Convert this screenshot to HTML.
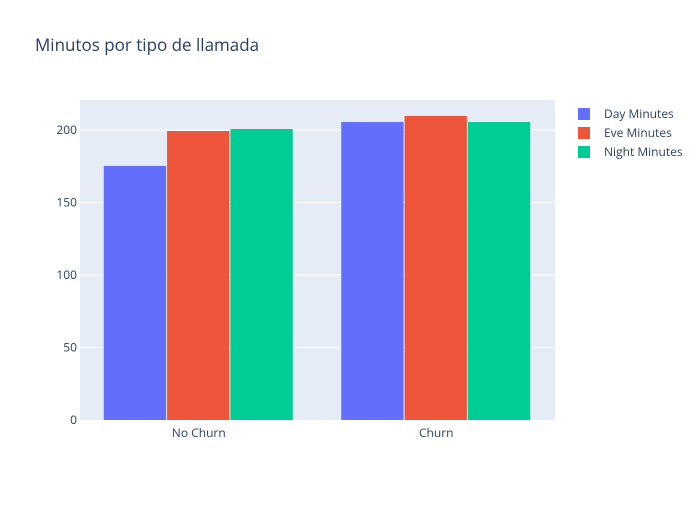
<!DOCTYPE html>
<html><head><meta charset="utf-8"><style>
body{margin:0;background:#fff;font-family:"Liberation Sans",sans-serif}
text{font-family:"Open Sans","Liberation Sans",sans-serif}
</style></head><body>
<svg id="chart" width="700" height="500">
<rect width="700" height="500" fill="#fff"/>
<text x="35" y="51" font-size="17" fill="#2a3f5f">Minutos por tipo de llamada</text>
<rect x="80" y="100" width="475" height="320" fill="#e5ecf6"/>
<g id="grid"></g><g id="bars"></g><g id="axes"></g><g id="legend"></g>
</svg>
<script>
const categories=["No Churn","Churn"];
const seriesNames=["Day Minutes","Eve Minutes","Night Minutes"];
const dayMinutes=[175.2,205.5];
const eveMinutes=[199.3,209.7];
const nightMinutes=[200.7,205.5];
const yTicks=[0,50,100,150,200];
const colors=["#636efa","#ef553b","#00cc96"];
const series=[dayMinutes,eveMinutes,nightMinutes];
const X0=80,X1=555,Y0=420,Y1=100,YMAX=220.7;
const ns="http://www.w3.org/2000/svg";
function y(v){return Y0-(v/YMAX)*(Y0-Y1);}
const bw=(X1-X0)/categories.length;
function xc(i){return X0+bw*(i+0.5);}
function mk(t,a,p){const e=document.createElementNS(ns,t);for(const k in a)e.setAttribute(k,a[k]);p.appendChild(e);return e;}
const grid=document.getElementById('grid'),axes=document.getElementById('axes'),bars=document.getElementById('bars'),leg=document.getElementById('legend');
yTicks.forEach(t=>{
 if(t>0){const l=mk('line',{x1:X0,x2:X1,y1:y(t),y2:y(t),stroke:'#fff','stroke-width':1},grid);
 
 }
 const tx=mk('text',{x:X0-3,y:y(t)+4,'text-anchor':'end','font-size':12,fill:'#2a3f5f'},axes);
 tx.textContent=t;
 
 
});
const groupW=bw*0.8,barW=groupW/series.length;
categories.forEach((c,i)=>{
 series.forEach((s,j)=>{
  const x=xc(i)-groupW/2+j*barW;
  const r=mk('rect',{x:x,y:y(s[i]),width:barW-1,height:Y0-y(s[i]),fill:colors[j]},bars);
  
  
 });
 const tx=mk('text',{x:xc(i),y:Y0+13+4,'text-anchor':'middle','font-size':12,fill:'#2a3f5f'},axes);
 tx.textContent=c;
 
 
});
seriesNames.forEach((n,j)=>{
 const yy=114+j*19;
 const r=mk('rect',{x:578,y:yy-6,width:12,height:12,fill:colors[j]},leg);
 
 
 const t=mk('text',{x:604,y:yy+4,'font-size':12,fill:'#2a3f5f'},leg);
 t.textContent=n;
 
 
});
</script>
</body></html>
